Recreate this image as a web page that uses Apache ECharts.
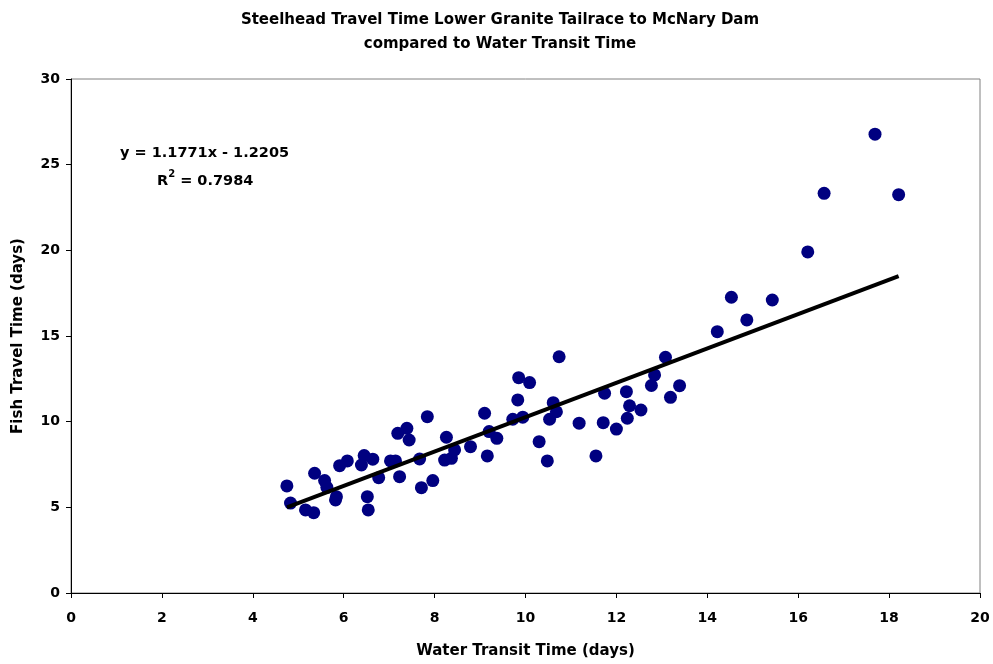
<!DOCTYPE html>
<html>
<head>
<meta charset="utf-8">
<script src="https://cdn.jsdelivr.net/npm/echarts@6/dist/echarts.min.js"></script>
<style>
    html, body { margin: 0; padding: 0; background: #fff; }
    #chart { width: 993px; height: 664px; }
</style>
</head>
<body>
<div id="chart"></div>
<script>
let waterTransit = [
    4.75, 4.83, 5.16, 5.34, 5.36, 5.58, 5.63, 5.84, 5.82, 5.91,
    6.08, 6.39, 6.45, 6.52, 6.54, 6.64, 6.77, 7.03, 7.14, 7.19,
    7.23, 7.39, 7.44, 7.67, 7.71, 7.84, 7.96, 8.22, 8.26, 8.37,
    8.44, 8.79, 9.10, 9.16, 9.20, 9.37, 9.72, 9.83, 9.85, 9.94,
    10.09, 10.30, 10.48, 10.53, 10.61, 10.68, 10.74, 11.18, 11.55, 11.71,
    11.74, 12.00, 12.22, 12.24, 12.29, 12.54, 12.77, 12.84, 13.08, 13.19,
    13.39, 14.22, 14.53, 14.87, 15.43, 16.21, 16.57, 17.69, 18.21
];
let fishTravel = [
    6.25, 5.25, 4.85, 4.69, 6.99, 6.56, 6.17, 5.62, 5.43, 7.43,
    7.71, 7.47, 8.02, 5.62, 4.85, 7.81, 6.73, 7.71, 7.71, 9.32,
    6.79, 9.61, 8.93, 7.82, 6.15, 10.29, 6.56, 7.76, 9.09, 7.86,
    8.35, 8.54, 10.49, 8.00, 9.42, 9.03, 10.14, 11.27, 12.57, 10.26,
    12.28, 8.83, 7.71, 10.14, 11.11, 10.58, 13.79, 9.91, 8.00, 9.94,
    11.66, 9.57, 11.75, 10.20, 10.93, 10.68, 12.11, 12.73, 13.76, 11.42,
    12.10, 15.25, 17.26, 15.94, 17.10, 19.91, 23.33, 26.78, 23.25
];
// trend line as drawn in the picture (end points)
let trendX = [4.75, 18.21];
let trendY = [5.0, 18.5];

let xTicks = [0, 2, 4, 6, 8, 10, 12, 14, 16, 18, 20];
let yTicks = [0, 5, 10, 15, 20, 25, 30];

let chart = echarts.init(document.getElementById("chart"));
let labelFont = {
    fontFamily: "DejaVu Sans",
    fontWeight: "bold",
    fontSize: 14,
    color: "#000"
};
let option = {
    animation: false,
    backgroundColor: "#fff",
    title: {
        text: "Steelhead Travel Time Lower Granite Tailrace to McNary Dam\ncompared to Water Transit Time",
        left: 495,
        textAlign: "center",
        top: 3,
        textStyle: {
            fontFamily: "DejaVu Sans",
            fontWeight: "bold",
            fontSize: 15,
            lineHeight: 24,
            color: "#000"
        }
    },
    grid: {
        left: 71,
        right: 13,
        top: 79,
        bottom: 71,
        show: true,
        borderColor: "#808080",
        borderWidth: 1
    },
    xAxis: {
        type: "value",
        min: xTicks[0],
        max: xTicks[xTicks.length - 1],
        interval: 2,
        name: "Water Transit Time (days)",
        nameLocation: "middle",
        nameGap: 51,
        nameTextStyle: Object.assign({}, labelFont, { fontSize: 15 }),
        axisLine: { lineStyle: { color: "#000", width: 1 } },
        axisTick: { length: 5, lineStyle: { color: "#000" } },
        axisLabel: Object.assign({ margin: 18 }, labelFont),
        splitLine: { show: false }
    },
    yAxis: {
        type: "value",
        min: yTicks[0],
        max: yTicks[yTicks.length - 1],
        interval: 5,
        name: "Fish Travel Time (days)",
        nameLocation: "middle",
        nameGap: 45,
        nameTextStyle: Object.assign({}, labelFont, { fontSize: 15 }),
        axisLine: { show: true, lineStyle: { color: "#000", width: 1 } },
        axisTick: { show: true, length: 5, lineStyle: { color: "#000" } },
        axisLabel: Object.assign({ margin: 11 }, labelFont),
        splitLine: { show: false }
    },
    series: [
        {
            name: "trend",
            type: "line",
            data: trendX.map((x, i) => [x, trendY[i]]),
            symbol: "none",
            lineStyle: { color: "#000", width: 4 },
            z: 3
        },
        {
            name: "fish",
            type: "scatter",
            data: waterTransit.map((x, i) => [x, fishTravel[i]]),
            symbol: "circle",
            symbolSize: 13,
            itemStyle: { color: "#000080", opacity: 1 },
            z: 2
        }
    ],
    graphic: [
        {
            type: "text",
            left: 120,
            top: 146,
            style: {
                text: "y = 1.1771x - 1.2205",
                font: "bold 14.5px 'DejaVu Sans'",
                fill: "#000"
            }
        },
        {
            type: "text",
            left: 157,
            top: 169,
            style: {
                text: "{a|R}{s|2}{a| = 0.7984}",
                fill: "#000",
                rich: {
                    a: { font: "bold 14.5px 'DejaVu Sans'", verticalAlign: "bottom", lineHeight: 20 },
                    s: { font: "bold 10px 'DejaVu Sans'", verticalAlign: "top", lineHeight: 20 }
                }
            }
        }
    ]
};
chart.setOption(option);
</script>
</body>
</html>
